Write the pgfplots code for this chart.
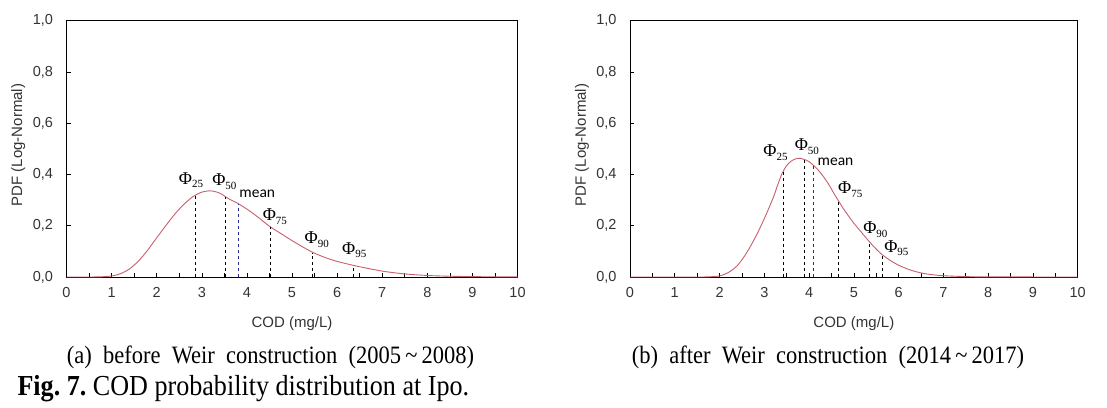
\documentclass[border=0pt]{standalone}
\usepackage{fontspec}
\setmainfont{Liberation Serif}
\newfontfamily\capfont[FakeStretch=0.9]{Liberation Serif}
\newfontfamily\axfont{Liberation Sans}
\newfontfamily\meanfont{Carlito}
\usepackage{pgfplots}
\pgfplotsset{compat=1.18}

\definecolor{curvec}{RGB}{198,96,108}
\definecolor{meanc}{RGB}{40,40,150}

\pgfplotstableread{
x y
0 0
0.5 0
0.8 0.001
1.0 0.004
1.2 0.013
1.4 0.032
1.6 0.063
1.8 0.105
2.0 0.153
2.2 0.200
2.4 0.245
2.6 0.283
2.8 0.313
3.0 0.331
3.2 0.336
3.4 0.327
3.6 0.305
3.8 0.287
4.0 0.265
4.25 0.233
4.5 0.198
4.75 0.170
5.0 0.142
5.25 0.116
5.5 0.093
5.75 0.075
6.0 0.061
6.25 0.050
6.5 0.040
7.0 0.023
7.5 0.012
8.0 0.006
8.5 0.003
9.0 0.0015
9.5 0.0008
10 0.0004
}\curveA

\pgfplotstableread{
x y
0 0
1.5 0
1.8 0.001
2.0 0.004
2.2 0.018
2.4 0.045
2.6 0.093
2.8 0.155
3.0 0.228
3.2 0.310
3.3 0.360
3.4 0.405
3.5 0.435
3.6 0.452
3.7 0.461
3.8 0.463
3.9 0.458
4.0 0.450
4.2 0.418
4.4 0.372
4.6 0.313
4.8 0.258
5.0 0.210
5.2 0.168
5.4 0.127
5.6 0.092
5.8 0.066
6.0 0.046
6.25 0.028
6.5 0.016
6.75 0.009
7.0 0.005
7.5 0.0015
8.0 0.0005
10 0
}\curveB

\pgfplotsset{pdfax/.style={
  scale only axis,
  xmin=0, xmax=10, ymin=0, ymax=1,
  xtick={0,1,...,10}, minor x tick num=1,
  ytick={0,0.2,0.4,0.6,0.8,1},
  tick align=inside, xtick pos=lower, ytick pos=left,
  major tick length=4pt, minor tick length=4pt,
  tick style={black, line width=0.6pt},
  axis line style={black, line width=0.8pt},
  /pgf/number format/assume math mode=true,
  ticklabel style={font=\axfont\fontsize{14.5}{14.5}\selectfont, text=black!80},
  yticklabel style={/pgf/number format/fixed, /pgf/number format/fixed zerofill, /pgf/number format/precision=1, /pgf/number format/use comma, xshift=-10pt},
  xticklabel style={yshift=-7pt},
  clip=false,
}}
\tikzset{qline/.style={dash pattern=on 3.5pt off 2.5pt, line width=0.7pt}}
\newcommand{\phil}[1]{{\fontsize{18}{18}\selectfont Φ\raisebox{-0.45ex}{\fontsize{11}{11}\selectfont #1}}}

\begin{document}
\begin{tikzpicture}[x=1pt,y=1pt]
\useasboundingbox (0,0) rectangle (1107,407);

% ---------- left ----------
\begin{axis}[pdfax, at={(66.5pt,130pt)}, anchor=south west, width=451pt, height=256.3pt]
\addplot[curvec, line width=0.9pt, smooth] table[x=x,y=y] {\curveA};
\addplot[black, qline] coordinates {(2.86,0) (2.86,0.316)};
\addplot[black, qline] coordinates {(3.52,0) (3.52,0.312)};
\addplot[meanc, qline] coordinates {(3.81,0) (3.81,0.286)};
\addplot[black, qline] coordinates {(4.51,0) (4.51,0.197)};
\addplot[black, qline] coordinates {(5.46,0) (5.46,0.095)};
\addplot[black, qline] coordinates {(6.35,0) (6.35,0.046)};
\node at (axis cs:2.76,0.378) {\phil{25}};
\node at (axis cs:3.50,0.372) {\phil{50}};
\node at (axis cs:4.23,0.326) {\meanfont\fontsize{15.5}{15.5}\selectfont mean};
\node at (axis cs:4.62,0.235) {\phil{75}};
\node at (axis cs:5.55,0.147) {\phil{90}};
\node at (axis cs:6.38,0.105) {\phil{95}};
\node[font=\axfont\fontsize{15}{15}\selectfont, text=black!80] at (rel axis cs:0.5,-0.18) {COD (mg/L)};
\node[font=\axfont\fontsize{15}{15}\selectfont, text=black!80, rotate=90] at (rel axis cs:-0.107,0.515) {PDF (Log-Normal)};
\end{axis}

% ---------- right ----------
\begin{axis}[pdfax, at={(630pt,130pt)}, anchor=south west, width=447.7pt, height=256.3pt]
\addplot[curvec, line width=0.9pt, smooth] table[x=x,y=y] {\curveB};
\addplot[black, qline] coordinates {(3.43,0) (3.43,0.415)};
\addplot[black, qline] coordinates {(3.89,0) (3.89,0.457)};
\addplot[meanc, qline] coordinates {(4.10,0) (4.10,0.435)};
\addplot[black, qline] coordinates {(4.65,0) (4.65,0.298)};
\addplot[black, qline] coordinates {(5.34,0) (5.34,0.136)};
\addplot[black, qline] coordinates {(5.63,0) (5.63,0.087)};
\node at (axis cs:3.25,0.486) {\phil{25}};
\node at (axis cs:3.95,0.509) {\phil{50}};
\node at (axis cs:4.59,0.448) {\meanfont\fontsize{15.5}{15.5}\selectfont mean};
\node at (axis cs:4.92,0.342) {\phil{75}};
\node at (axis cs:5.48,0.186) {\phil{90}};
\node at (axis cs:5.95,0.112) {\phil{95}};
\node[font=\axfont\fontsize{15}{15}\selectfont, text=black!80] at (rel axis cs:0.5,-0.18) {COD (mg/L)};
\node[font=\axfont\fontsize{15}{15}\selectfont, text=black!80, rotate=90] at (rel axis cs:-0.107,0.515) {PDF (Log-Normal)};
\end{axis}

% ---------- captions ----------
\node[font=\capfont\fontsize{25}{25}\selectfont] at (270.5,50) {(a)\ \ before\ \ Weir\ \ construction\ \ (2005\,\textasciitilde\,2008)};
\node[font=\capfont\fontsize{25}{25}\selectfont] at (828,50) {(b)\ \ after\ \ Weir\ \ construction\ \ (2014\,\textasciitilde\,2017)};
\node[font=\capfont\fontsize{29}{29}\selectfont, anchor=west] at (14,18) {\textbf{Fig.\ 7.}\ COD probability distribution at Ipo.};
\end{tikzpicture}
\end{document}
